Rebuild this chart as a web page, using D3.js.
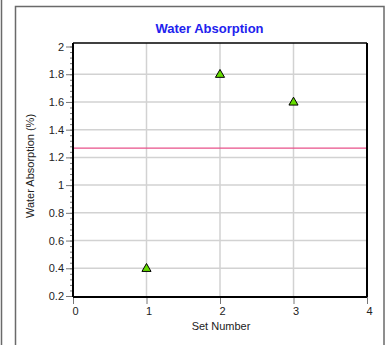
<!DOCTYPE html>
<html><head><meta charset="utf-8">
<script src="https://cdn.jsdelivr.net/npm/d3@7"></script>
<style>body{margin:0;background:#fff}svg{display:block;font-family:"Liberation Sans",Arial,sans-serif}</style>
</head><body>
<script>
const setNumbers = [1, 2, 3];
const absorption = [0.4, 1.8, 1.6];
const meanValue = 1.2667;
const xTicks = [0, 1, 2, 3, 4];
const yTicks = [0.2, 0.4, 0.6, 0.8, 1, 1.2, 1.4, 1.6, 1.8, 2];
const yTickLabels = ["0.2","0.4","0.6","0.8","1","1.2","1.4","1.6","1.8","2"];

const W = 387, H = 345;
const svg = d3.select("body").append("svg").attr("width", W).attr("height", H);

// outer frames
svg.append("line").attr("x1",1.5).attr("x2",1.5).attr("y1",0).attr("y2",H).attr("stroke","#6a6a6a").attr("stroke-width",1.5);
svg.append("rect").attr("x",15.5).attr("y",6.5).attr("width",368.5).attr("height",H).attr("fill","none").attr("stroke","#6a6a6a").attr("stroke-width",1.5);

const L = 73, R = 367, T = 43, B = 297;
const x = d3.scaleLinear().domain([0, 4]).range([L, R]);
const y = d3.scaleLinear().domain([0.2, 2]).range([B - 1, 46.5]);

// grid
const g = svg.append("g");
g.selectAll(".vg").data(xTicks.slice(1, -1)).join("line")
  .attr("x1", d => x(d)).attr("x2", d => x(d)).attr("y1", T).attr("y2", B)
  .attr("stroke", "#d2d2d2").attr("stroke-width", 1.5);
g.selectAll(".hg").data(yTicks.slice(1, -1)).join("line")
  .attr("x1", L).attr("x2", R).attr("y1", d => y(d)).attr("y2", d => y(d))
  .attr("stroke", "#d2d2d2").attr("stroke-width", 1.5);

// mean line
svg.append("line").attr("x1", L).attr("x2", R).attr("y1", y(meanValue)).attr("y2", y(meanValue))
  .attr("stroke", "#e8508a").attr("stroke-width", 1.3);

// y axis minor ticks
svg.append("g").attr("transform", `translate(${L},0)`).call(
  d3.axisLeft(y).tickValues(d3.range(0, 46).map(i => 0.2 + i * 0.04).filter(v => y(v) >= T)).tickSize(3).tickFormat(""))
  .call(a => a.select(".domain").remove())
  .call(a => a.selectAll("line").attr("stroke", "#777"));

// y axis major
svg.append("g").attr("transform", `translate(${L},0)`).call(
  d3.axisLeft(y).tickValues(yTicks).tickSize(7).tickPadding(2).tickFormat((d, i) => yTickLabels[i]))
  .call(a => a.select(".domain").remove())
  .call(a => a.selectAll("line").attr("stroke", "#777"))
  .call(a => a.selectAll("text").attr("font-size", 11).attr("fill", "#222").attr("font-family", "Liberation Sans, Arial, sans-serif"));

// x axis
svg.append("g").attr("transform", `translate(0,${B})`).call(
  d3.axisBottom(x).tickValues(xTicks).tickSize(7).tickPadding(3).tickFormat(d3.format("d")))
  .call(a => a.select(".domain").remove())
  .call(a => a.selectAll("line").attr("stroke", "#777"))
  .call(a => a.selectAll("text").attr("font-size", 11).attr("fill", "#222").attr("font-family", "Liberation Sans, Arial, sans-serif").attr("dx", 2));

// plot border
svg.append("line").attr("x1", L).attr("x2", R).attr("y1", T).attr("y2", T).attr("stroke", "#000").attr("stroke-width", 1.5);
svg.append("line").attr("x1", R).attr("x2", R).attr("y1", T).attr("y2", B).attr("stroke", "#000").attr("stroke-width", 2);
svg.append("line").attr("x1", L).attr("x2", R).attr("y1", B).attr("y2", B).attr("stroke", "#000").attr("stroke-width", 2.2);
svg.append("line").attr("x1", L).attr("x2", L).attr("y1", T).attr("y2", B).attr("stroke", "#000").attr("stroke-width", 2);

// points
const tri = d3.symbol().type(d3.symbolTriangle).size(36);
svg.selectAll(".pt").data(setNumbers).join("path")
  .attr("d", tri)
  .attr("transform", (d, i) => `translate(${x(d)},${y(absorption[i]) + 0.5})`)
  .attr("fill", "#66dd00").attr("stroke", "#000").attr("stroke-width", 1);

// title
svg.append("text").attr("x", 209.5).attr("y", 33).attr("text-anchor", "middle")
  .attr("font-size", 13).attr("font-weight", "bold").attr("fill", "#2222ee").text("Water Absorption");

// axis labels
svg.append("text").attr("x", 221).attr("y", 330).attr("text-anchor", "middle")
  .attr("font-size", 11).attr("fill", "#222").text("Set Number");
svg.append("text").attr("transform", "translate(34,166) rotate(-90)").attr("text-anchor", "middle")
  .attr("font-size", 11).attr("fill", "#222").text("Water Absorption (%)");
</script>
</body></html>
